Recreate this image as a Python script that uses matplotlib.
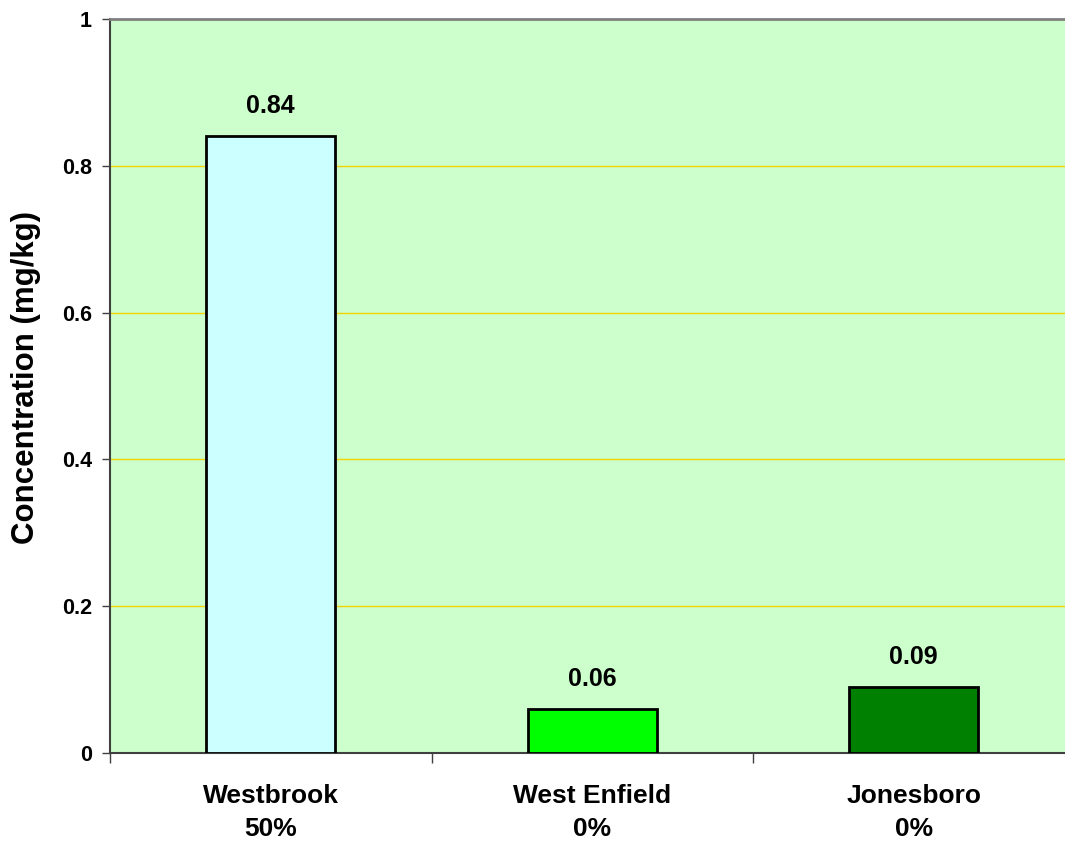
import matplotlib
matplotlib.use("Agg")
import matplotlib.pyplot as plt
from matplotlib.ticker import FixedLocator, NullFormatter

plt.rcParams['font.family'] = ['Liberation Sans', 'DejaVu Sans']
plt.rcParams['font.weight'] = 'bold'

# Data
sites = ['Westbrook', 'West Enfield', 'Jonesboro']
percents = ['50%', '0%', '0%']
concentration = [0.84, 0.06, 0.09]
bar_colors = ['#CCFFFF', '#00FF00', '#008000']
yticks = [0, 0.2, 0.4, 0.6, 0.8, 1]

fig = plt.figure(figsize=(10.65, 8.42), dpi=100)
# plot area runs a little past the right edge of the figure
ax = fig.add_axes([110 / 1065, 1 - 753 / 842, 964.5 / 1065, 734 / 842])
ax.set_facecolor('#CCFFCC')

x = list(range(len(sites)))
ax.bar(x, concentration, width=0.4, color=bar_colors,
       edgecolor='black', linewidth=2, zorder=3)

for xi, v in zip(x, concentration):
    ax.text(xi, v + 0.025, f'{v:.2f}', ha='center', va='bottom',
            fontsize=18, fontweight='bold')

ax.set_xlim(-0.5, len(sites) - 0.5)
ax.set_ylim(0, 1)

ax.set_yticks(yticks)
ax.set_yticklabels(['0', '0.2', '0.4', '0.6', '0.8', '1'], fontsize=15.5)
ax.yaxis.grid(True, color='#F2D400', linewidth=1.0, zorder=0)
ax.set_axisbelow(True)

# category ticks sit between bars, labels sit under bar centres
ax.xaxis.set_major_locator(FixedLocator([-0.5, 0.5, 1.5, 2.5]))
ax.xaxis.set_major_formatter(NullFormatter())
ax.xaxis.set_minor_locator(FixedLocator(x))
ax.set_xticklabels([f'{s}\n{p}' for s, p in zip(sites, percents)],
                   minor=True, fontsize=19, linespacing=1.5)
ax.tick_params(axis='x', which='major', direction='out', length=7,
               width=1, color='#404040')
ax.tick_params(axis='x', which='minor', length=0, pad=22)
ax.tick_params(axis='y', direction='out', length=6, width=1,
               color='#404040', pad=7)

for side in ['left', 'bottom']:
    ax.spines[side].set_color('#404040')
    ax.spines[side].set_linewidth(1.5)
ax.spines['top'].set_color('#808080')
ax.spines['top'].set_linewidth(2)
ax.spines['right'].set_visible(False)

ax.set_ylabel('Concentration (mg/kg)', fontsize=22.5, fontweight='bold')
ax.yaxis.set_label_coords(-0.0715, 0.511)

fig.savefig('out.png', dpi=100)
